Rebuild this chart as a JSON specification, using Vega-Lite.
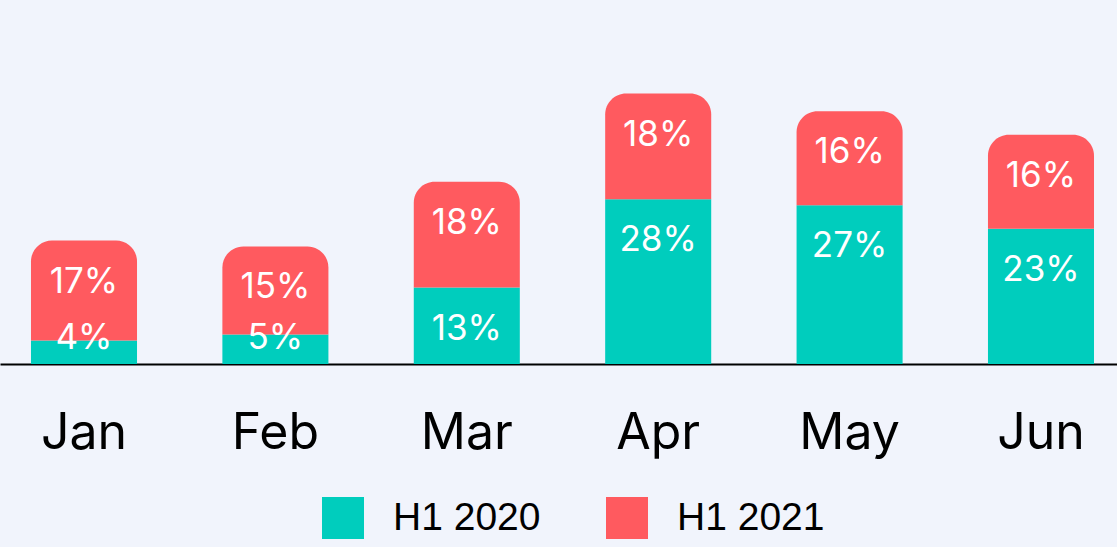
{
  "$schema": "https://vega.github.io/schema/vega-lite/v6.json",
  "width": 1117,
  "height": 294,
  "autosize": {"type": "none"},
  "padding": {"left": 0, "top": 70, "right": 0, "bottom": 183},
  "background": "#F1F4FC",
  "config": {"view": {"stroke": null}, "font": "Inter"},
  "data": {
    "values": [
      {"month": "Jan", "series": "H1 2020", "value": 0.04},
      {"month": "Jan", "series": "H1 2021", "value": 0.17},
      {"month": "Feb", "series": "H1 2020", "value": 0.05},
      {"month": "Feb", "series": "H1 2021", "value": 0.15},
      {"month": "Mar", "series": "H1 2020", "value": 0.13},
      {"month": "Mar", "series": "H1 2021", "value": 0.18},
      {"month": "Apr", "series": "H1 2020", "value": 0.28},
      {"month": "Apr", "series": "H1 2021", "value": 0.18},
      {"month": "May", "series": "H1 2020", "value": 0.27},
      {"month": "May", "series": "H1 2021", "value": 0.16},
      {"month": "Jun", "series": "H1 2020", "value": 0.23},
      {"month": "Jun", "series": "H1 2021", "value": 0.16}
    ]
  },
  "transform": [
    {"stack": "value", "groupby": ["month"], "sort": [{"field": "series", "order": "ascending"}], "as": ["y0", "y1"]},
    {"calculate": "max(datum.y1, 0.114)", "as": "label_y"}
  ],
  "encoding": {
    "x": {
      "field": "month",
      "type": "nominal",
      "sort": ["Jan", "Feb", "Mar", "Apr", "May", "Jun"],
      "scale": {"paddingInner": 0.446, "paddingOuter": 0.141, "align": 0.574, "round": false},
      "axis": {
        "title": null,
        "ticks": false,
        "domainColor": "#000000",
        "domainWidth": 2,
        "labelFont": "Inter",
        "labelFontSize": 50,
        "labelColor": "#000000",
        "labelPadding": 84,
        "labelBaseline": "alphabetic",
        "labelAngle": 0,
        "labelOverlap": false,
        "grid": false
      }
    }
  },
  "layer": [
    {
      "transform": [{"filter": "datum.series == 'H1 2020'"}],
      "mark": {"type": "bar"},
      "encoding": {
        "y": {"field": "y1", "type": "quantitative", "scale": {"domain": [0, 0.5]}, "axis": null},
        "y2": {"field": "y0"},
        "color": {
          "field": "series",
          "type": "nominal",
          "scale": {"domain": ["H1 2020", "H1 2021"], "range": ["#00CDBD", "#FF5A5F"]},
          "legend": {
            "orient": "none",
            "legendX": 322,
            "legendY": 427,
            "direction": "horizontal",
            "title": null,
            "symbolType": "square",
            "symbolSize": 1764,
            "symbolStrokeWidth": 0,
            "symbolOpacity": 1,
            "labelFont": "Liberation Sans",
            "labelFontSize": 39,
            "labelColor": "#000000",
            "labelOffset": 29,
            "columnPadding": 65,
            "padding": 0
          }
        }
      }
    },
    {
      "transform": [{"filter": "datum.series == 'H1 2021'"}],
      "mark": {"type": "bar", "cornerRadiusTopLeft": 21, "cornerRadiusTopRight": 21},
      "encoding": {
        "y": {"field": "y1", "type": "quantitative"},
        "y2": {"field": "y0"},
        "color": {"field": "series", "type": "nominal"}
      }
    },
    {
      "mark": {"type": "text", "baseline": "alphabetic", "dy": 52, "fontSize": 35, "color": "#FFFFFF", "font": "Inter"},
      "encoding": {
        "y": {"field": "label_y", "type": "quantitative"},
        "text": {"field": "value", "type": "quantitative", "format": ".0%"}
      }
    }
  ]
}
